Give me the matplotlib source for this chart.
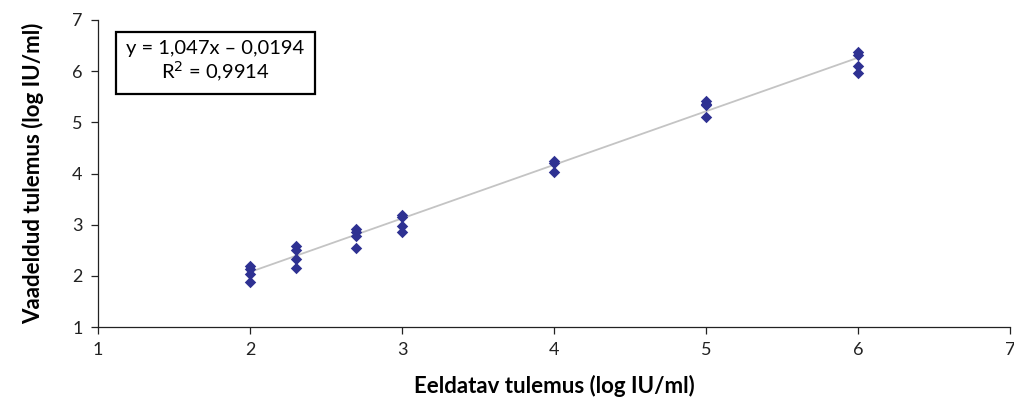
import numpy as np
import matplotlib
matplotlib.use('Agg')
import matplotlib.pyplot as plt

# expected vs observed (log IU/ml)
x_expected = [2, 2, 2, 2,
              2.3, 2.3, 2.3, 2.3,
              2.7, 2.7, 2.7, 2.7,
              3, 3, 3, 3,
              4, 4, 4,
              5, 5, 5, 5,
              6, 6, 6, 6]
y_observed = [2.19, 2.13, 2.04, 1.87,
              2.59, 2.50, 2.32, 2.15,
              2.92, 2.86, 2.77, 2.54,
              3.19, 3.15, 2.97, 2.86,
              4.25, 4.21, 4.02,
              5.42, 5.36, 5.33, 5.10,
              6.37, 6.31, 6.10, 5.97]
slope, intercept = 1.047, -0.0194
fit_x = [2, 6]

plt.rcParams['font.family'] = ['Lato', 'DejaVu Sans']

fig = plt.figure(figsize=(10.14, 4.08), dpi=100)
ax = fig.add_axes([0.0966, 0.1985, 0.8994, 0.7525])

fx = np.array(fit_x)
ax.plot(fx, slope * fx + intercept, color='#c4c4c4', lw=1.3, zorder=1)
ax.scatter(x_expected, y_observed, marker='D', s=34, color='#2e3192', zorder=2, linewidths=0)

ax.set_xlim(1, 7)
ax.set_ylim(1, 7)
ax.set_xticks(range(1, 8))
ax.set_yticks(range(1, 8))
for s in ['top', 'right']:
    ax.spines[s].set_visible(False)
for s in ['left', 'bottom']:
    ax.spines[s].set_color('#222222')
    ax.spines[s].set_linewidth(0.9)
ax.tick_params(direction='out', length=5, width=0.9, labelsize=13, colors='#222222', pad=6)

ax.set_xlabel('Eeldatav tulemus (log IU/ml)', fontsize=16, fontweight='bold', labelpad=12)
ax.set_ylabel('Vaadeldud tulemus (log IU/ml)', fontsize=16, fontweight='bold', labelpad=20)

ax.text(0.129, 0.862, 'y = 1,047x – 0,0194\nR$^2$ = 0,9914', transform=ax.transAxes,
        ha='center', va='center', fontsize=14.5, linespacing=1.15,
        bbox=dict(boxstyle='square,pad=0.5', facecolor='white', edgecolor='black', linewidth=1.6))

fig.savefig('out.png', dpi=100)
